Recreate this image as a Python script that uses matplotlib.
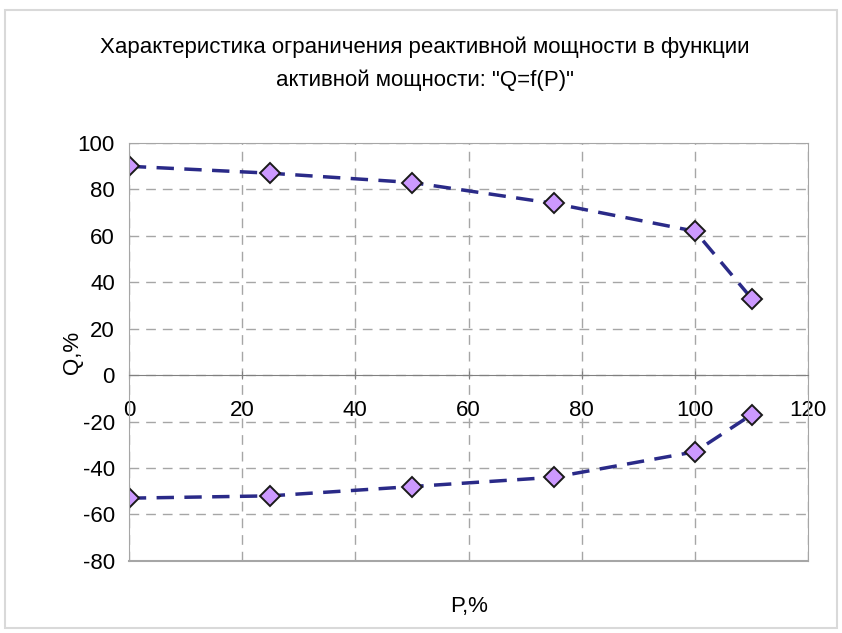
import matplotlib.pyplot as plt
from matplotlib.patches import Rectangle

plt.rcParams['font.family'] = ['Liberation Sans', 'DejaVu Sans']

# data
p_vals = [0, 25, 50, 75, 100, 110]
q_max = [90, 87, 83, 74, 62, 33]
q_min = [-53, -52, -48, -44, -33, -17]

x_ticks = [0, 20, 40, 60, 80, 100, 120]
y_ticks = [-80, -60, -40, -20, 0, 20, 40, 60, 80, 100]

fig = plt.figure(figsize=(8.42, 6.33), dpi=100)
ax = fig.add_axes([0.153, 0.114, 0.807, 0.660])

# chart area border
fig.patches.append(Rectangle((5 / 842, 5 / 633), 832 / 842, 618 / 633,
                             transform=fig.transFigure, fill=False,
                             edgecolor='#d9d9d9', linewidth=1.5))

line_kw = dict(color='#2a2a88', linestyle=(0, (5, 3)), linewidth=2.5,
               marker='D', markersize=10.5, markerfacecolor='#cc99ff',
               markeredgecolor='#1a1a1a', markeredgewidth=1.4)
ax.plot(p_vals, q_max, **line_kw)
ax.plot(p_vals, q_min, **line_kw)

ax.set_xlim(0, 120)
ax.set_ylim(-80, 100)
ax.set_xticks(x_ticks)
ax.set_yticks(y_ticks)
ax.set_xticklabels([str(t) for t in x_ticks])
ax.set_yticklabels([str(t) for t in y_ticks])

ax.grid(True, color='#a6a6a6', linestyle=(0, (7, 5)), linewidth=1)
ax.set_axisbelow(True)

for side in ['left', 'right', 'top', 'bottom']:
    ax.spines[side].set_color('#a6a6a6')
ax.spines['bottom'].set_position(('data', 0))
ax.spines['bottom'].set_color('#808080')
# frame line at the bottom of the plot area
ax.axhline(-80, color='#a6a6a6', linewidth=1.5, clip_on=False)

ax.tick_params(axis='both', colors='#808080', labelcolor='#000000',
               labelsize=16, length=6, direction='inout')
ax.tick_params(axis='x', pad=15)
ax.tick_params(axis='y', length=0, pad=10)

ax.set_xlabel('P,%', fontsize=16, labelpad=0)
ax.xaxis.set_label_coords(0.5, -0.085)
ax.set_ylabel('Q,%', fontsize=16)
ax.yaxis.set_label_coords(-0.068, 0.5)

fig.text(0.505, 0.925, 'Характеристика ограничения реактивной мощности в функции',
         ha='center', va='center', fontsize=16)
fig.text(0.505, 0.873, 'активной мощности: "Q=f(P)"',
         ha='center', va='center', fontsize=16)

fig.savefig('out.png', dpi=100, facecolor='white')
